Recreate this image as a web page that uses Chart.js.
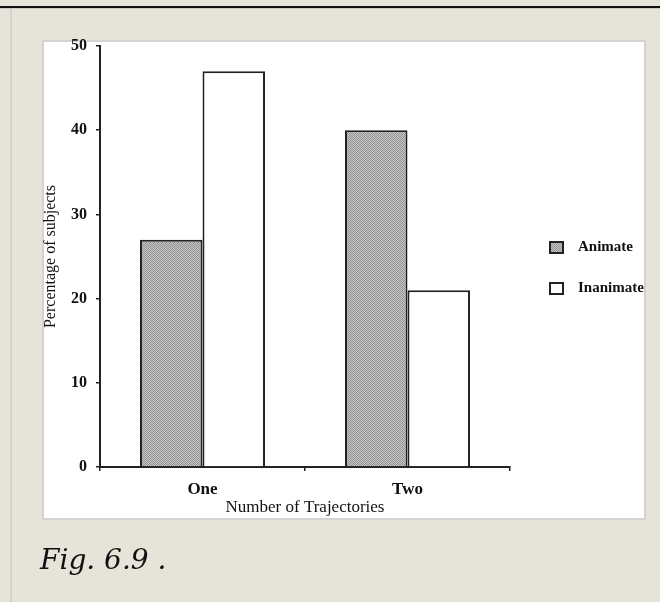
<!DOCTYPE html>
<html><head><meta charset="utf-8">
<script src="https://cdn.jsdelivr.net/npm/chart.js@4/dist/chart.umd.min.js"></script>
<style>
html,body{margin:0;padding:0;}
body{width:660px;height:602px;background:#e6e4d9;position:relative;overflow:hidden;}
#topline{position:absolute;left:0;top:6px;width:660px;height:2px;background:#111;}
#topline2{position:absolute;left:0;top:8px;width:660px;height:1px;background:#c9c9c9;}
#leftline{position:absolute;left:10px;top:9px;width:2px;height:593px;background:#d2d2d2;}
#panel{position:absolute;left:42px;top:40px;width:600px;height:476px;background:#fff;border:2px solid #d3d3d3;}
#caption{position:absolute;left:40px;top:546px;font:italic 28px "DejaVu Serif";line-height:28px;color:#111;white-space:pre;}
#c{position:absolute;left:0;top:0;}
</style>
</head><body>
<div id="topline"></div><div id="topline2"></div><div id="leftline"></div>
<div id="panel"></div>
<canvas id="c" width="660" height="602"></canvas>
<div id="caption">Fig. 6.9 .</div>
<script>
const categories = ['One', 'Two'];
const animateValues = [27, 40];
const inanimateValues = [47, 21];
const seriesNames = ['Animate', 'Inanimate'];
const yTickValues = [0, 10, 20, 30, 40, 50];
const xTitle = 'Number of Trajectories';
const yTitle = 'Percentage of subjects';

const FAM = '"Liberation Serif", "Times New Roman", serif';

function makePattern() {
  const p = document.createElement('canvas');
  p.width = 4; p.height = 4;
  const g = p.getContext('2d');
  const cols = [['#8e8e8e','#c6c6c6','#999999','#c0c0c0'],
                ['#c4c4c4','#a0a0a0','#c8c8c8','#8c8c8c'],
                ['#9a9a9a','#c2c2c2','#8a8a8a','#c6c6c6'],
                ['#c8c8c8','#8e8e8e','#c0c0c0','#a2a2a2']];
  for (let y = 0; y < 4; y++) for (let x = 0; x < 4; x++) {
    g.fillStyle = cols[y][x];
    g.fillRect(x, y, 1, 1);
  }
  return g.createPattern(p, 'repeat');
}
const pattern = makePattern();

const legendPlace = {
  id: 'legendPlace',
  afterLayout(chart) {
    const l = chart.legend;
    const w = l.width;
    l.left = 524; l.right = 524 + w;
    l.top = 214; l.bottom = 334; l.height = 120;
  }
};

new Chart(document.getElementById('c'), {
  type: 'bar',
  data: {
    labels: categories,
    datasets: [
      { label: seriesNames[0], data: animateValues, backgroundColor: pattern, borderColor: '#222', borderWidth: 2 },
      { label: seriesNames[1], data: inanimateValues, backgroundColor: '#ffffff', borderColor: '#222', borderWidth: 2 }
    ]
  },
  options: {
    responsive: false,
    animation: false,
    devicePixelRatio: 1,
    layout: { padding: { left: 36, top: 46, right: 30, bottom: 84 } },
    datasets: { bar: { categoryPercentage: 0.61, barPercentage: 1 } },
    plugins: {
      tooltip: { enabled: false },
      legend: {
        position: 'right',
        align: 'start',
        maxWidth: 120,
        labels: {
          boxWidth: 13, boxHeight: 11, padding: 26, color: '#111',
          font: { family: FAM, size: 15, weight: 'bold' },
          generateLabels(chart) {
            const items = Chart.defaults.plugins.legend.labels.generateLabels(chart);
            items.forEach(it => { it.text = '  ' + it.text; });
            return items;
          }
        }
      }
    },
    scales: {
      x: {
        grid: { display: true, drawOnChartArea: false, drawTicks: true, tickLength: 4, color: '#222', lineWidth: 1.5, offset: true },
        border: { display: true, color: '#222', width: 2 },
        ticks: { color: '#111', padding: 8, font: { family: FAM, size: 17, weight: 'bold' } },
        title: { display: true, text: xTitle, color: '#111', padding: { top: 0, bottom: 0 }, font: { family: FAM, size: 17 } },
        afterFit(s) { s.height = 51; }
      },
      y: {
        min: 0, max: 50,
        afterBuildTicks(s) { s.ticks = yTickValues.map(v => ({ value: v })); },
        grid: { display: true, drawOnChartArea: false, drawTicks: true, tickLength: 4, color: '#222', lineWidth: 1.5 },
        border: { display: true, color: '#222', width: 2 },
        ticks: { color: '#111', padding: 9, font: { family: FAM, size: 16, weight: 'bold' } },
        title: { display: true, text: yTitle, color: '#111', padding: { top: 5, bottom: 0 }, font: { family: FAM, size: 16 } },
        afterFit(s) { s.width = 64; }
      }
    }
  },
  plugins: [legendPlace]
});
</script>
</body></html>
